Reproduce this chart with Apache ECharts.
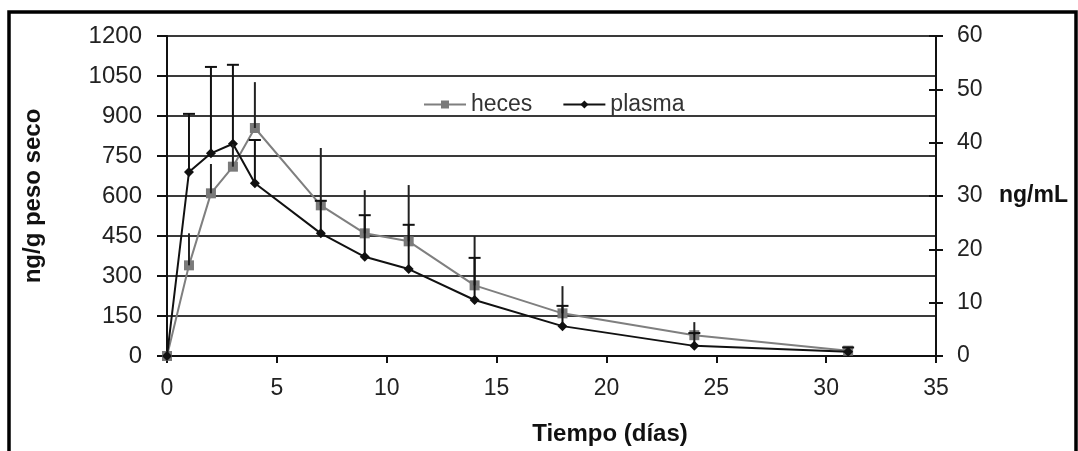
<!DOCTYPE html>
<html>
<head>
<meta charset="utf-8">
<script src="https://cdn.jsdelivr.net/npm/echarts@6/dist/echarts.min.js"></script>
<style>
html,body{margin:0;padding:0;background:#fff;}
#chart{width:1078px;height:451px;}
</style>
</head>
<body>
<div id="chart"></div>
<script>
// Days (x values)
var days = [0, 1, 2, 3, 4, 7, 9, 11, 14, 18, 24, 31];
// heces (ng/g peso seco, left axis)
var heces = [0, 340, 610, 710, 855, 565, 460, 430, 265, 160, 78, 20];
var hecesHi = [null, 460, 720, 795, 1027, 780, 622, 641, 450, 262, 127, 34];
// plasma (ng/mL, right axis)
var plasma = [0, 34.5, 38, 39.8, 32.4, 23, 18.6, 16.3, 10.5, 5.6, 1.9, 0.8];
var plasmaHi = [null, 45.4, 54.2, 54.6, 40.5, 29.1, 26.4, 24.6, 18.4, 9.4, 4.3, 1.6];

var leftTicks = {min: 0, max: 1200, interval: 150};
var rightTicks = {min: 0, max: 60, interval: 10};
var xTicks = {min: 0, max: 35, interval: 5};

function pairs(xs, ys) { return xs.map(function (x, i) { return [x, ys[i]]; }); }
function errData(xs, lo, hi) {
  var out = [];
  xs.forEach(function (x, i) { if (hi[i] != null) out.push([x, lo[i], hi[i]]); });
  return out;
}
function errRenderer(cap, color) {
  return function (params, api) {
    var x = api.value(0);
    var p1 = api.coord([x, api.value(1)]);
    var p2 = api.coord([x, api.value(2)]);
    var children = [{
      type: 'line',
      shape: {x1: p1[0], y1: p1[1], x2: p2[0], y2: p2[1]},
      style: {stroke: color, lineWidth: 2}
    }];
    if (cap) {
      children.push({
        type: 'line',
        shape: {x1: p2[0] - 6, y1: p2[1], x2: p2[0] + 6, y2: p2[1]},
        style: {stroke: color, lineWidth: 2}
      });
    }
    return {type: 'group', children: children};
  };
}
function plain(v) { return String(v); }

var chart = echarts.init(document.getElementById('chart'));
var textColor = '#222';
chart.setOption({
  animation: false,
  backgroundColor: '#fff',
  grid: {left: 167, right: 142, top: 36, bottom: 95, containLabel: false},
  legend: {
    data: ['heces', 'plasma'],
    left: 418, top: 88,
    itemWidth: 42, itemHeight: 10, itemGap: 30,
    textStyle: {fontFamily: 'Liberation Sans', fontSize: 23, color: '#333'}
  },
  xAxis: {
    type: 'value', min: xTicks.min, max: xTicks.max, interval: xTicks.interval,
    name: 'Tiempo (días)', nameLocation: 'middle', nameGap: 66,
    nameTextStyle: {fontFamily: 'Liberation Sans', fontWeight: 'bold', fontSize: 24, color: '#111', padding: [0, 0, 0, 117]},
    axisLine: {show: true, onZero: false, lineStyle: {color: '#111', width: 2}},
    axisTick: {show: true, length: 7, lineStyle: {color: '#111', width: 2}},
    axisLabel: {fontFamily: '"Liberation Sans Narrow", "Liberation Sans"', fontSize: 23, color: textColor, margin: 21, formatter: plain},
    splitLine: {show: false}
  },
  yAxis: [{
    type: 'value', position: 'left', min: leftTicks.min, max: leftTicks.max, interval: leftTicks.interval,
    name: 'ng/g peso seco', nameLocation: 'middle', nameGap: 122,
    nameTextStyle: {fontFamily: 'Liberation Sans', fontWeight: 'bold', fontSize: 24, color: '#111'},
    axisLine: {show: true, lineStyle: {color: '#111', width: 2}},
    axisTick: {show: true, length: 10, lineStyle: {color: '#111', width: 2}},
    axisLabel: {fontFamily: 'Liberation Sans', fontSize: 24, color: textColor, margin: 25, formatter: plain},
    splitLine: {show: true, lineStyle: {color: '#3a3a3a', width: 2}}
  }, {
    type: 'value', position: 'right', min: rightTicks.min, max: rightTicks.max, interval: rightTicks.interval,
    name: 'ng/mL', nameLocation: 'middle', nameRotate: 0, nameGap: 63,
    nameTextStyle: {fontFamily: 'Liberation Sans', fontWeight: 'bold', fontSize: 23, color: '#111'},
    axisLine: {show: true, lineStyle: {color: '#111', width: 2}},
    axisTick: {show: true, length: 7, lineStyle: {color: '#111', width: 2}},
    axisLabel: {fontFamily: 'Liberation Sans', fontSize: 23, color: textColor, margin: 21, formatter: plain},
    splitLine: {show: false}
  }, {
    type: 'value', position: 'right', min: rightTicks.min, max: rightTicks.max, interval: rightTicks.interval,
    axisLine: {show: false},
    axisTick: {show: true, inside: true, length: 7, lineStyle: {color: '#111', width: 2}},
    axisLabel: {show: false},
    splitLine: {show: false}
  }],
  series: [{
    name: 'heces', type: 'line', yAxisIndex: 0,
    data: pairs(days, heces),
    symbol: 'rect', symbolSize: 10,
    lineStyle: {color: '#7f7f7f', width: 2},
    itemStyle: {color: '#7a7a7a'},
    z: 3
  }, {
    name: 'plasma', type: 'line', yAxisIndex: 1,
    data: pairs(days, plasma),
    symbol: 'diamond', symbolSize: 10,
    lineStyle: {color: '#111', width: 2},
    itemStyle: {color: '#111'},
    z: 4
  }, {
    name: 'hecesErr', type: 'custom', yAxisIndex: 0,
    data: errData(days, heces, hecesHi),
    renderItem: errRenderer(false, '#222'),
    encode: {x: 0, y: [1, 2]},
    z: 5
  }, {
    name: 'plasmaErr', type: 'custom', yAxisIndex: 1,
    data: errData(days, plasma, plasmaHi),
    renderItem: errRenderer(true, '#111'),
    encode: {x: 0, y: [1, 2]},
    z: 6
  }],
  graphic: [{
    type: 'rect', silent: true,
    shape: {x: 9, y: 12, width: 1067, height: 520},
    style: {fill: 'none', stroke: '#000', lineWidth: 3.5}
  }]
});
</script>
</body>
</html>
